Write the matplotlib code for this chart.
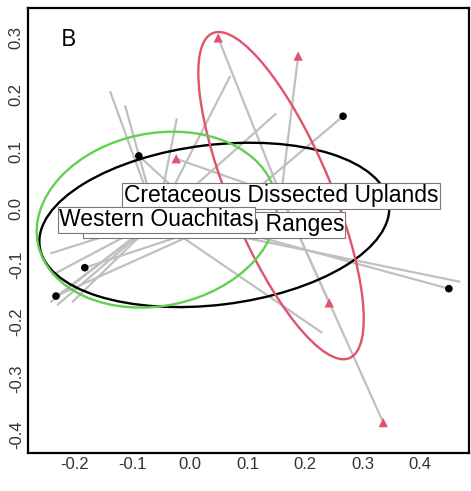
import numpy as np
import matplotlib
matplotlib.use("Agg")
import matplotlib.pyplot as plt
from matplotlib.patches import Ellipse

# group names, drawn in this order (last one on top)
groups = ["Central Mountain Ranges", "Cretaceous Dissected Uplands", "Western Ouachitas"]
group_colors = ["black", "#DF536B", "#61D04F"]

# site scores per group
central_x = [0.266, -0.089, -0.183, -0.233, 0.450]
central_y = [0.162, 0.092, -0.105, -0.155, -0.142]

cretaceous_x = [0.049, 0.188, -0.024, 0.242, 0.336]
cretaceous_y = [0.300, 0.268, 0.087, -0.167, -0.378]

ouachitas_x = [-0.139, -0.113, -0.023, 0.070, 0.150, 0.230, 0.470,
               -0.243, -0.240, -0.235, -0.243, -0.231, -0.205]
ouachitas_y = [0.206, 0.181, 0.158, 0.233, 0.167, -0.220, -0.130,
               -0.080, -0.118, -0.158, -0.166, -0.171, -0.166]

# ellipse half axes and rotation (degrees)
ell_a = [0.306, 0.310, 0.211]
ell_b = [0.141, 0.088, 0.152]
ell_angle = [7, -67.5, 12]

xticks = [-0.2, -0.1, 0.0, 0.1, 0.2, 0.3, 0.4]
yticks = [-0.4, -0.3, -0.2, -0.1, 0.0, 0.1, 0.2, 0.3]

pts = [(central_x, central_y), (cretaceous_x, cretaceous_y), (ouachitas_x, ouachitas_y)]
markers = ["o", "^", None]

fig = plt.figure(figsize=(4.71, 4.91), dpi=100)
ax = fig.add_axes([28 / 471, 38 / 491, 441 / 471, 445 / 491])
ax.set_xlim(-0.2817, 0.485)
ax.set_ylim(-0.4316, 0.3527)

centroids = []
for (xs, ys) in pts:
    xs, ys = np.asarray(xs), np.asarray(ys)
    centroids.append((xs.mean(), ys.mean()))

# spider lines
for (xs, ys), (cx, cy) in zip(pts, centroids):
    for x, y in zip(xs, ys):
        ax.plot([cx, x], [cy, y], color="#C0C0C0", lw=1.6, zorder=1,
                solid_capstyle="butt")

# ellipses
for i, (cx, cy) in enumerate(centroids):
    e = Ellipse((cx, cy), 2 * ell_a[i], 2 * ell_b[i], angle=ell_angle[i],
                fill=False, edgecolor=group_colors[i], lw=1.7, zorder=2)
    ax.add_patch(e)

# points
for i, (xs, ys) in enumerate(pts):
    if markers[i] is None:
        continue
    ax.scatter(xs, ys, marker=markers[i], color=group_colors[i],
               s=30 if markers[i] == "o" else 45, edgecolors="none", zorder=3)

# centroid labels
for i, (cx, cy) in enumerate(centroids):
    ax.text(cx, cy, groups[i], ha="center", va="center", fontsize=16.5,
            family="Liberation Sans", color="black", zorder=4 + i,
            bbox=dict(boxstyle="square,pad=0.06", facecolor="white",
                      edgecolor="#777777", lw=0.8))

ax.text(0.091, 0.928, "B", transform=ax.transAxes, ha="center", va="center",
        fontsize=17, family="Open Sans", color="black")

ax.set_xticks(xticks)
ax.set_yticks(yticks)
ax.set_xticklabels([f"{t:.1f}" for t in xticks])
ax.set_yticklabels([f"{t:.1f}" for t in yticks], rotation=90, va="center")
ax.tick_params(length=0, pad=3, labelsize=12, labelcolor="#333333")
for lab in ax.get_xticklabels() + ax.get_yticklabels():
    lab.set_family("Liberation Sans")
for sp in ax.spines.values():
    sp.set_linewidth(1.6)

fig.savefig("out.png", dpi=100)
